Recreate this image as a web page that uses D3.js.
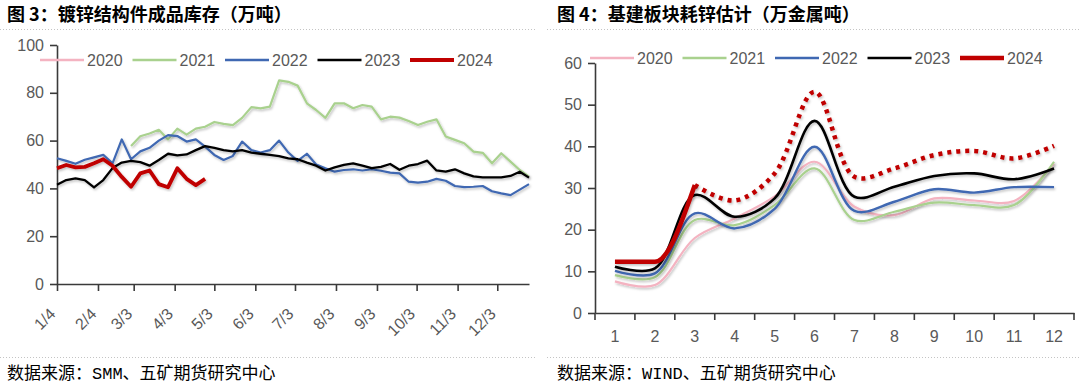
<!DOCTYPE html>
<html>
<head>
<meta charset="UTF-8">
<title>镀锌结构件成品库存 / 基建板块耗锌估计</title>
<script src="https://cdn.jsdelivr.net/npm/d3@7"></script>
<style>
    body { margin: 0; background: #fff; }
    svg { display: block; font-family: "Liberation Sans", Arial, sans-serif; }
    .title { font-family: "Noto Sans CJK SC", sans-serif; font-weight: 700; font-size: 18px; fill: #000; }
    .source { font-family: "Liberation Mono", "Noto Sans CJK SC", monospace; font-size: 17px; fill: #000; }
    .sep { stroke: #c4c4c4; stroke-width: 1; stroke-dasharray: 1 2; }
    .axis path, .axis line { stroke: #3a3a3a; stroke-width: 1.6; }
    .axis text { fill: #595959; font-size: 16px; font-family: "Liberation Sans", Arial, sans-serif; }
    .legend text { fill: #595959; font-size: 16px; }
    .line { fill: none; stroke-linejoin: round; }
</style>
</head>
<body>
<svg width="1080" height="384"></svg>
<script>
    // ---------- 数据 ----------
    var years = ['2020', '2021', '2022', '2023', '2024'];
    var yearColors = ['#F4B3C1', '#A9D18E', '#3F68B2', '#000000', '#C00000'];

    // 图3：镀锌结构件成品库存（万吨），周度
    var invWeekStart = '2023/01/04';
    var invWeekCount = 52;
    var invTickLabels = ['1/4', '2/4', '3/3', '4/3', '5/3', '6/3', '7/3', '8/3', '9/3', '10/3', '11/3', '12/3'];
    var inv2020 = [];
    var inv2021 = [null, null, null, null, null, null, null, null,
        57.7, 61.8, 63, 64.5, 60.5, 65, 62.5, 65, 65.8, 67.8, 67, 66.5, 69.5, 74, 73.5, 74.2,
        85.2, 84.6, 83, 75.6, 72.8, 69.5, 75.6, 75.6, 73.5, 74.9, 74.2, 68.9, 70, 69.6, 68.2, 66.5,
        67.9, 68.9, 61.7, 60.3, 58.9, 55.4, 54.9, 50.5, 54.7, 51.2, 47.7, 44.9];
    var inv2022 = [52.6, 51.5, 50.3, 52, 53, 54, 50.5, 60.5, 52.2, 55.5, 57, 60, 62.3, 61.9, 59.6, 60.5,
        57.5, 54, 51.9, 53.6, 59.6, 56, 55, 56, 60, 55, 51.5, 54.5, 50, 48.4, 47, 47.7,
        48, 47.5, 48, 47.4, 46.6, 46.3, 42.8, 42.4, 42.8, 44, 43.2, 41, 40.5, 40.7, 41, 38.8,
        37.9, 37.2, 39.5, 41.8];
    var inv2023 = [41.5, 43.5, 44.2, 43.5, 40.4, 43.5, 48.5, 50.8, 51.5, 51, 49.5, 51.9, 54.5, 53.8, 54.2, 56,
        57.7, 57, 56, 55.5, 56, 55, 54.5, 54, 53.5, 52.6, 52.2, 50.8, 49.5, 47.5, 48.8, 49.8,
        50.5, 49.5, 48.5, 49, 50.2, 47.8, 49.5, 50.2, 51.6, 47.5, 47, 48, 46.3, 45, 44.6, 44.6,
        44.6, 45.2, 47, 44.5];
    var inv2024 = [48.4, 49.8, 48.8, 49, 50.5, 52.2, 49.5, 44.8, 40.7, 46.3, 47.5, 41.8, 40.5, 48.4, 44, 41.4, 44];

    // 图4：基建板块耗锌估计（万金属吨），月度
    var months = ['1', '2', '3', '4', '5', '6', '7', '8', '9', '10', '11', '12'];
    var base2020 = [7.6, 6.7, 18, 22.7, 28, 36.3, 25.5, 23.5, 27.5, 27, 26.9, 35.9];
    var base2021 = [9.1, 8.6, 22.3, 21.1, 25.9, 34.7, 22.3, 24.3, 26.5, 25.9, 25.9, 36.3];
    var base2022 = [10.1, 9.5, 23.9, 20.3, 25, 39.9, 24.5, 26.7, 29.7, 28.9, 30.2, 30.2];
    var base2023 = [11.1, 10.7, 28.3, 23.1, 27.5, 46.1, 27.9, 30.3, 32.9, 33.5, 32.1, 34.7];
    var base2024 = [12.3, 12.3, 30.7, 27, 33.5, 53.1, 32.7, 34.7, 37.9, 38.9, 37.1, 40.1];
    var base2024Actual = 3;   // 前3个月为实际值，之后为估计（虚线）

    // ---------- 画布 ----------
    var svg = d3.select('svg');
    var parseDay = d3.timeParse('%Y/%m/%d');

    var defs = svg.append('defs');
    defs.append('filter').attr('id', 'shadow')
        .attr('x', '-5%').attr('y', '-5%').attr('width', '110%').attr('height', '120%')
        .append('feDropShadow')
        .attr('dx', 1.2).attr('dy', 1.6).attr('stdDeviation', 1)
        .attr('flood-color', '#000').attr('flood-opacity', 0.25);

    // 标题、分隔线、数据来源
    svg.append('text').attr('class', 'title').attr('x', 7).attr('y', 21).text('图 3：镀锌结构件成品库存（万吨）');
    svg.append('text').attr('class', 'title').attr('x', 557).attr('y', 21).text('图 4：基建板块耗锌估计（万金属吨）');
    [[0, 537], [547, 1080]].forEach(function (p) {
        svg.append('line').attr('class', 'sep').attr('x1', p[0]).attr('x2', p[1]).attr('y1', 29.5).attr('y2', 29.5);
        svg.append('line').attr('class', 'sep').attr('x1', p[0]).attr('x2', p[1]).attr('y1', 357.5).attr('y2', 357.5);
    });
    svg.append('text').attr('class', 'source').attr('x', 7).attr('y', 379).text('数据来源：SMM、五矿期货研究中心');
    svg.append('text').attr('class', 'source').attr('x', 557).attr('y', 379).text('数据来源：WIND、五矿期货研究中心');

    function drawLegend(g, x0, y, widths) {
        var item = g.append('g').attr('class', 'legend').selectAll('g')
            .data(years).enter().append('g')
            .attr('transform', (d, i) => 'translate(' + (x0 + i * 92.5) + ',' + y + ')');
        item.append('line')
            .attr('x1', 0).attr('x2', 44).attr('y1', 0).attr('y2', 0)
            .style('stroke', (d, i) => yearColors[i])
            .style('stroke-width', (d, i) => widths[i]);
        item.append('text').attr('x', 47).attr('y', 0).attr('dy', '0.36em').text(d => d);
    }

    // ---------- 图3 ----------
    var weeks = d3.range(invWeekCount).map(i => d3.timeDay.offset(parseDay(invWeekStart), 7 * i));
    var invTicks = invTickLabels.map(t => parseDay('2023/' + t));

    var invX = d3.scaleTime().domain([weeks[0], weeks[weeks.length - 1]]).range([57, 529]);
    var invY = d3.scaleLinear().domain([0, 100]).range([284, 45]);

    var left = svg.append('g');
    left.append('g').attr('class', 'axis')
        .attr('transform', 'translate(57,0)')
        .call(d3.axisLeft(invY).tickValues([0, 20, 40, 60, 80, 100]).tickSize(7).tickSizeOuter(0).tickPadding(6));
    left.append('g').attr('class', 'axis')
        .attr('transform', 'translate(0,284)')
        .call(d3.axisBottom(invX).tickValues(invTicks).tickFormat((d, i) => invTickLabels[i]).tickSize(7).tickSizeOuter(0))
        .selectAll('text')
            .attr('x', 0).attr('y', 0).attr('dy', 0)
            .attr('transform', 'translate(-1,31) rotate(-45)')
            .style('text-anchor', 'end');

    var invLine = d3.line()
        .defined(d => d.v != null)
        .x(d => invX(d.date))
        .y(d => invY(d.v));

    var invSeries = [inv2020, inv2021, inv2022, inv2023, inv2024].map((vals, k) => ({
        year: years[k],
        values: vals.map((v, i) => ({ date: weeks[i], v: v }))
    }));
    var invWidths = [2.2, 2.2, 2.2, 2.3, 3.8];

    left.append('g').selectAll('path')
        .data(invSeries).enter().append('path')
        .attr('class', 'line')
        .attr('filter', 'url(#shadow)')
        .attr('d', d => invLine(d.values))
        .style('stroke', (d, i) => yearColors[i])
        .style('stroke-width', (d, i) => invWidths[i]);

    drawLegend(left, 40, 60, [2.5, 2.5, 2.5, 2.5, 4]);

    // ---------- 图4 ----------
    var baseX = d3.scaleBand().domain(months).range([595, 1074]);
    var baseY = d3.scaleLinear().domain([0, 60]).range([313, 63]);

    var right = svg.append('g');
    right.append('g').attr('class', 'axis')
        .attr('transform', 'translate(595,0)')
        .call(d3.axisLeft(baseY).tickValues([0, 10, 20, 30, 40, 50, 60]).tickSize(7).tickSizeOuter(0).tickPadding(6));
    var xAxis4 = right.append('g').attr('class', 'axis')
        .attr('transform', 'translate(0,313)')
        .call(d3.axisBottom(baseX).tickSize(0).tickPadding(18));
    // 刻度线在类别边界
    xAxis4.selectAll('.bound')
        .data(months.map(m => baseX(m)).concat([baseX.range()[1]]))
        .enter().append('line')
        .attr('class', 'bound')
        .attr('x1', d => d).attr('x2', d => d)
        .attr('y1', 0).attr('y2', 7);

    var bx = d => baseX(d.m) + baseX.bandwidth() / 2;
    var baseLine = d3.line()
        .curve(d3.curveCatmullRom.alpha(0.5))
        .x(bx)
        .y(d => baseY(d.v));
    var actualLine = d3.line()
        .curve(d3.curveMonotoneX)
        .x(bx)
        .y(d => baseY(d.v));

    var baseSeries = [base2020, base2021, base2022, base2023].map((vals, k) => ({
        year: years[k],
        values: vals.map((v, i) => ({ m: months[i], v: v }))
    }));
    var baseWidths = [2.2, 2.2, 2.4, 2.6];

    right.append('g').selectAll('path')
        .data(baseSeries).enter().append('path')
        .attr('class', 'line')
        .attr('filter', 'url(#shadow)')
        .attr('d', d => baseLine(d.values))
        .style('stroke', (d, i) => yearColors[i])
        .style('stroke-width', (d, i) => baseWidths[i]);

    var pts2024 = base2024.map((v, i) => ({ m: months[i], v: v }));
    right.append('path')
        .attr('class', 'line')
        .attr('filter', 'url(#shadow)')
        .attr('d', baseLine(pts2024.slice(base2024Actual - 1)))
        .style('stroke', yearColors[4])
        .style('stroke-width', 4.5)
        .style('stroke-dasharray', '4 5');
    right.append('path')
        .attr('class', 'line')
        .attr('filter', 'url(#shadow)')
        .attr('d', actualLine(pts2024.slice(0, base2024Actual)))
        .style('stroke', yearColors[4])
        .style('stroke-width', 4.5);

    drawLegend(right, 590, 58, [2.5, 2.5, 2.5, 2.5, 4.5]);
</script>
</body>
</html>
